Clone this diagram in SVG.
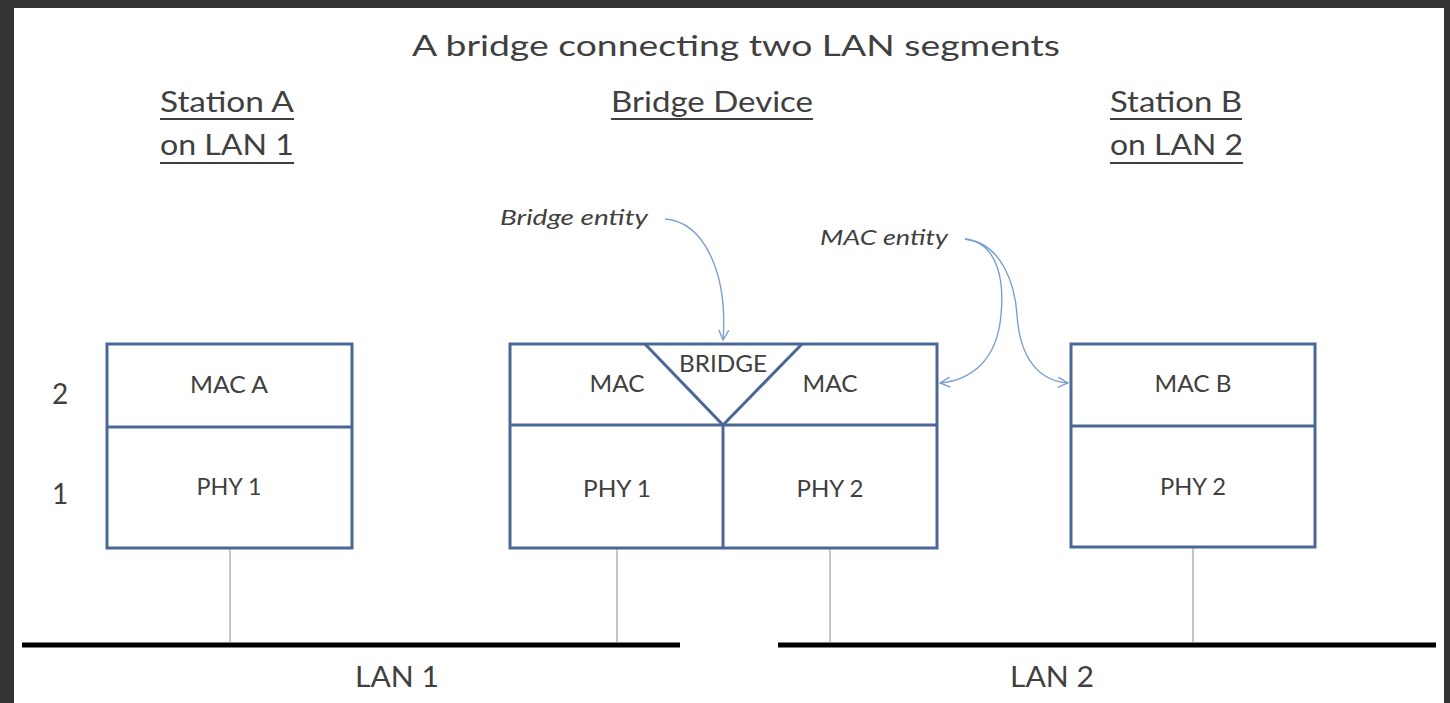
<svg xmlns="http://www.w3.org/2000/svg" width="1450" height="703" viewBox="0 0 1450 703">
<defs>
<style>
.t{font-family:Lato,"Open Sans","Liberation Sans",sans-serif;fill:#404040}
.box{fill:#fff;stroke:#4a6796;stroke-width:3}
.ln{stroke:#4a6796;stroke-width:3;fill:none}
.drop{stroke:#8a8a8a;stroke-width:1}
.lan{stroke:#000;stroke-width:5}
.ul{stroke:#404040;stroke-width:2}
.arr{fill:none;stroke:#7b9fcf;stroke-width:1.4}
</style>
<marker id="ah" viewBox="0 0 12 12" refX="11" refY="6" markerWidth="12" markerHeight="12" markerUnits="userSpaceOnUse" orient="auto">
<path d="M1,1 L11,6 L1,11" fill="none" stroke="#7b9fcf" stroke-width="1.4"/>
</marker>
</defs>
<rect x="0" y="0" width="1450" height="703" fill="#333333"/>
<rect x="14" y="8" width="1430" height="695" fill="#ffffff"/>

<g id="headers">
<text class="t" x="736" y="56" font-size="29" text-anchor="middle" textLength="648" lengthAdjust="spacingAndGlyphs">A bridge connecting two LAN segments</text>
<text class="t" x="160" y="112" font-size="28" textLength="134" lengthAdjust="spacingAndGlyphs">Station A</text>
<line class="ul" x1="160" y1="119" x2="294" y2="119"/>
<text class="t" x="160" y="155" font-size="28" textLength="134" lengthAdjust="spacingAndGlyphs">on LAN 1</text>
<line class="ul" x1="160" y1="163" x2="294" y2="163"/>
<text class="t" x="611" y="112" font-size="28" textLength="202" lengthAdjust="spacingAndGlyphs">Bridge Device</text>
<line class="ul" x1="611" y1="119" x2="813" y2="119"/>
<text class="t" x="1110" y="112" font-size="28" textLength="132" lengthAdjust="spacingAndGlyphs">Station B</text>
<line class="ul" x1="1110" y1="119" x2="1242" y2="119"/>
<text class="t" x="1110" y="155" font-size="28" textLength="133" lengthAdjust="spacingAndGlyphs">on LAN 2</text>
<line class="ul" x1="1110" y1="163" x2="1243" y2="163"/>
<text class="t" x="60" y="404" font-size="28" text-anchor="middle">2</text>
<text class="t" x="60" y="504" font-size="28" text-anchor="middle">1</text>
</g>

<g id="stationA">
<rect class="box" x="107" y="344" width="245" height="204"/>
<line class="ln" x1="107" y1="427" x2="352" y2="427"/>
<text class="t" x="229" y="393" font-size="24" text-anchor="middle" textLength="78" lengthAdjust="spacingAndGlyphs">MAC A</text>
<text class="t" x="229" y="495" font-size="24" text-anchor="middle" textLength="65" lengthAdjust="spacingAndGlyphs">PHY 1</text>
</g>

<g id="bridge">
<rect class="box" x="510" y="344" width="427" height="204"/>
<line class="ln" x1="510" y1="425" x2="937" y2="425"/>
<line class="ln" x1="723" y1="425" x2="723" y2="548"/>
<polyline class="ln" points="645,344 723,425 802,344"/>
<text class="t" x="617" y="392" font-size="24" text-anchor="middle" textLength="55" lengthAdjust="spacingAndGlyphs">MAC</text>
<text class="t" x="723" y="372" font-size="24" text-anchor="middle" textLength="88" lengthAdjust="spacingAndGlyphs">BRIDGE</text>
<text class="t" x="830" y="392" font-size="24" text-anchor="middle" textLength="55" lengthAdjust="spacingAndGlyphs">MAC</text>
<text class="t" x="617" y="497" font-size="24" text-anchor="middle" textLength="68" lengthAdjust="spacingAndGlyphs">PHY 1</text>
<text class="t" x="830" y="497" font-size="24" text-anchor="middle" textLength="67" lengthAdjust="spacingAndGlyphs">PHY 2</text>
</g>

<g id="stationB">
<rect class="box" x="1071" y="344" width="244" height="203"/>
<line class="ln" x1="1071" y1="426" x2="1315" y2="426"/>
<text class="t" x="1193" y="392" font-size="24" text-anchor="middle" textLength="77" lengthAdjust="spacingAndGlyphs">MAC B</text>
<text class="t" x="1193" y="495" font-size="24" text-anchor="middle" textLength="66" lengthAdjust="spacingAndGlyphs">PHY 2</text>
</g>

<g id="lans">
<line class="lan" x1="22" y1="645" x2="680" y2="645"/>
<line class="lan" x1="778" y1="645" x2="1436" y2="645"/>
<text class="t" x="397" y="687" font-size="28" text-anchor="middle" textLength="84" lengthAdjust="spacingAndGlyphs">LAN 1</text>
<text class="t" x="1052" y="687" font-size="28" text-anchor="middle" textLength="84" lengthAdjust="spacingAndGlyphs">LAN 2</text>
</g>

<g id="labels">
<text class="t" x="500" y="225" font-size="22" font-style="italic" textLength="148" lengthAdjust="spacingAndGlyphs">Bridge entity</text>
<text class="t" x="820" y="245" font-size="22" font-style="italic" textLength="128" lengthAdjust="spacingAndGlyphs">MAC entity</text>
</g>

<g id="connectors">
<line class="drop" x1="230" y1="549" x2="230" y2="643"/>
<line class="drop" x1="617" y1="549" x2="617" y2="643"/>
<line class="drop" x1="830" y1="549" x2="830" y2="643"/>
<line class="drop" x1="1193" y1="548" x2="1193" y2="643"/>
<path class="arr" d="M665,219 C705,222 728,275 723,340" marker-end="url(#ah)"/>
<path class="arr" d="M965,239 C1000,243 1004,285 1001,315 C997,360 972,380 940,383" marker-end="url(#ah)"/>
<path class="arr" d="M965,239 C1002,243 1015,285 1017,315 C1020,360 1040,381 1068,383" marker-end="url(#ah)"/>
</g>
</svg>
